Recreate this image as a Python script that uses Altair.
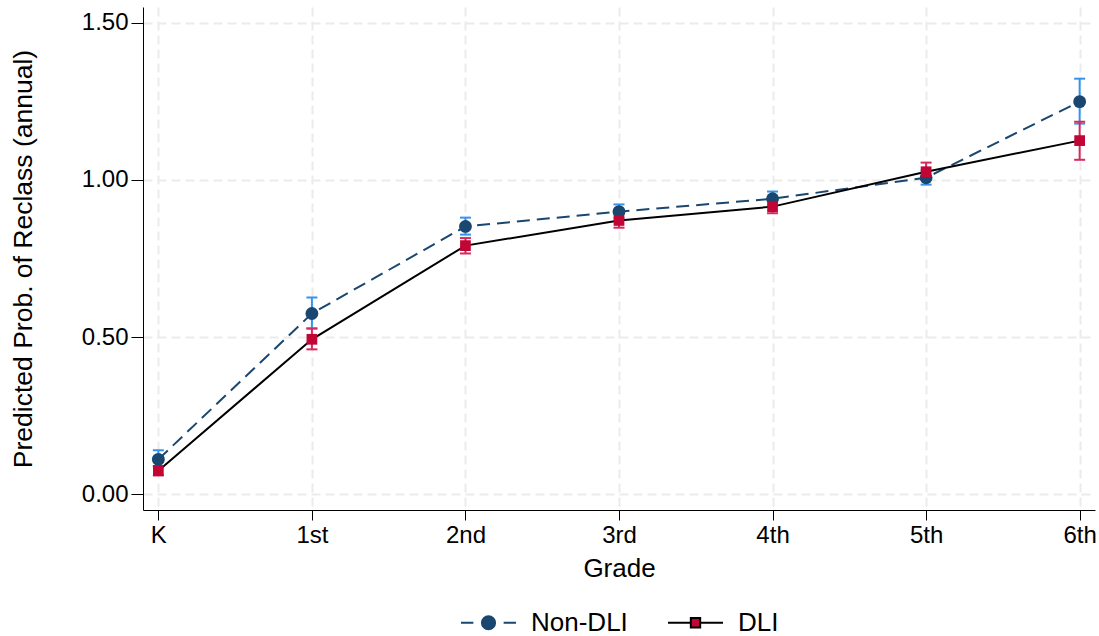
import altair as alt
import pandas as pd

# Grades on the x axis and the two program groups
grades = ["K", "1st", "2nd", "3rd", "4th", "5th", "6th"]
groups = ["Non-DLI", "DLI"]

# Predicted annual reclassification probability with confidence bounds
nondli_est = [0.111, 0.575, 0.852, 0.899, 0.940, 1.007, 1.249]
nondli_lo = [0.088, 0.528, 0.826, 0.878, 0.918, 0.985, 1.179]
nondli_hi = [0.140, 0.626, 0.880, 0.922, 0.963, 1.030, 1.322]

dli_est = [0.075, 0.493, 0.791, 0.871, 0.915, 1.026, 1.125]
dli_lo = [0.060, 0.461, 0.766, 0.848, 0.894, 1.000, 1.064]
dli_hi = [0.090, 0.527, 0.815, 0.893, 0.935, 1.055, 1.185]

y_ticks = [0.0, 0.5, 1.0, 1.5]

rows = []
for name, est, lo, hi in [
    ("Non-DLI", nondli_est, nondli_lo, nondli_hi),
    ("DLI", dli_est, dli_lo, dli_hi),
]:
    for i, g in enumerate(grades):
        rows.append({"grade": i, "label": g, "group": name,
                     "est": est[i], "lo": lo[i], "hi": hi[i]})
df = pd.DataFrame(rows)

FONT = "Liberation Sans"
NAVY = "#1a476f"
RED = "#c10534"
CI_BLUE = "#3593ee"
CI_RED = "#d42a5e"

label_expr = "[" + ",".join(f"'{g}'" for g in grades) + "][datum.value]"

x_axis = alt.Axis(values=list(range(len(grades))), labelExpr=label_expr,
                  title="Grade", tickSize=10, labelPadding=3, titlePadding=8,
                  labelFontSize=24, titleFontSize=26)
y_axis = alt.Axis(values=y_ticks, format=".2f",
                  title="Predicted Prob. of Reclass (annual)",
                  tickSize=12, labelPadding=3, titlePadding=44,
                  labelFontSize=24, titleFontSize=26.5)

x_scale = alt.Scale(domain=[-0.1, 6.1], nice=False, zero=False)
y_scale = alt.Scale(domain=[-0.05, 1.55], nice=False, zero=False)


def X():
    return alt.X("grade:Q", scale=x_scale, axis=x_axis)


def Y(field):
    return alt.Y(f"{field}:Q", scale=y_scale, axis=y_axis)


base = alt.Chart(df)
non = base.transform_filter(alt.datum.group == "Non-DLI")
dli = base.transform_filter(alt.datum.group == "DLI")


def ci_layers(src, color):
    bar = src.mark_rule(color=color, strokeWidth=2, opacity=1).encode(
        x=X(), y=Y("lo"), y2="hi:Q")
    cap_lo = src.mark_tick(color=color, orient="horizontal", size=11,
                           thickness=2, opacity=1).encode(x=X(), y=Y("lo"))
    cap_hi = src.mark_tick(color=color, orient="horizontal", size=11,
                           thickness=2, opacity=1).encode(x=X(), y=Y("hi"))
    return [bar, cap_lo, cap_hi]


non_line = non.mark_line(color=NAVY, strokeWidth=2, strokeDash=[13, 7]).encode(
    x=X(), y=Y("est"))
non_pts = non.mark_point(shape="circle", filled=True, size=165, color=NAVY,
                         opacity=1).encode(x=X(), y=Y("est"))
dli_line = dli.mark_line(color="black", strokeWidth=2).encode(
    x=X(), y=Y("est"))
dli_pts = dli.mark_point(shape="square", filled=True, size=115, color=RED,
                         opacity=1).encode(x=X(), y=Y("est"))

# Legend symbols: connecting line with the group's marker in the middle
non_sym = ("M-1,0H-0.55M0.55,0H1"
           "M-0.24,0A0.24,0.24,0,1,1,0.24,0A0.24,0.24,0,1,1,-0.24,0Z")
dli_sym = "M-1,0H-0.19M0.19,0H1M-0.17,-0.17H0.17V0.17H-0.17Z"

legend = alt.Legend(title=None, orient="none", legendX=317, legendY=587,
                    direction="horizontal", symbolSize=3025,
                    symbolStrokeWidth=2, symbolOpacity=1, labelFontSize=26,
                    labelOffset=14, columnPadding=36, labelFont=FONT,
                    labelColor="black")

legend_layer = base.transform_filter("false").mark_point(
    filled=True, strokeWidth=2, opacity=1).encode(
    x=X(), y=Y("est"),
    fill=alt.Fill("group:N", scale=alt.Scale(domain=groups, range=[NAVY, RED]),
                  legend=legend),
    stroke=alt.Stroke("group:N",
                      scale=alt.Scale(domain=groups, range=[NAVY, "black"]),
                      legend=legend),
    shape=alt.Shape("group:N",
                    scale=alt.Scale(domain=groups, range=[non_sym, dli_sym]),
                    legend=legend),
)

chart = alt.layer(
    *ci_layers(non, CI_BLUE),
    *ci_layers(dli, CI_RED),
    non_line, non_pts, dli_line, dli_pts, legend_layer,
).properties(
    width=952, height=503,
    autosize=alt.AutoSizeParams(type="none"),
    padding={"left": 143, "top": 7, "right": 4, "bottom": 126},
    background="white",
).configure_view(stroke=None).configure_axis(
    labelFont=FONT, titleFont=FONT,
    titleFontWeight="normal", labelColor="black", titleColor="black",
    domainColor="black", domainWidth=1, tickColor="black", tickWidth=1,
    gridColor="#ebebeb", gridDash=[9, 5], gridWidth=2,
)

chart.save("out.html", embed_options={"renderer": "svg", "actions": False})
